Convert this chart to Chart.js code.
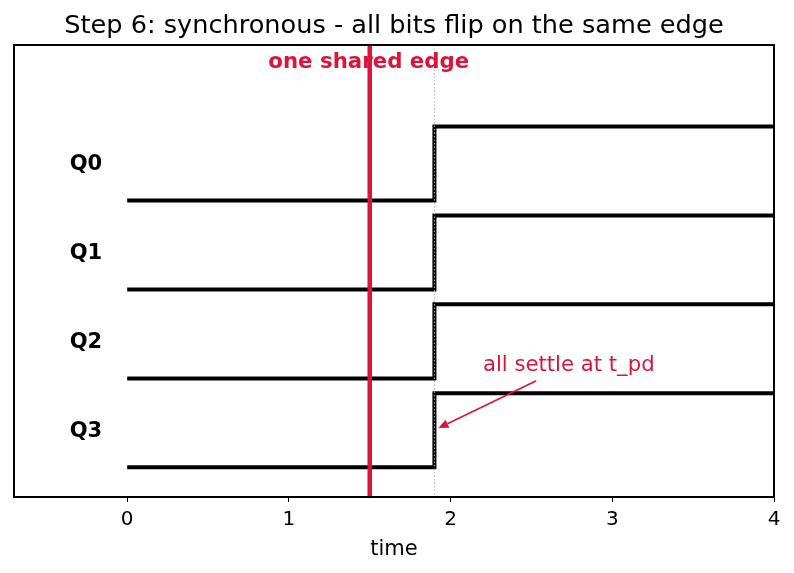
<!DOCTYPE html>
<html>
<head>
<meta charset="utf-8">
<script src="https://cdn.jsdelivr.net/npm/chart.js@4/dist/chart.umd.min.js"></script>
<style>
  html, body { margin: 0; padding: 0; background: #fff; }
  canvas { display: block; }
</style>
</head>
<body>
<canvas id="chart" width="794" height="573"></canvas>
<script>
// Waveform data
const bitNames = ['Q0', 'Q1', 'Q2', 'Q3'];
const bitOffsets = [3.6, 2.4, 1.2, 0];
const sampleTimes = [0, 1.9, 4];
const bitLevels = [0, 1, 1];
const clockEdge = 1.5;
const settleTime = 1.9;
const xTicks = [0, 1, 2, 3, 4];

const CRIMSON = '#DC143C';
const FONT = '"DejaVu Sans", sans-serif';

const datasets = bitNames.map(function(name, i) {
    return {
        label: name,
        data: sampleTimes.map(function(t, k) {
            return { x: t, y: bitOffsets[i] + bitLevels[k] };
        }),
        stepped: true,
        borderColor: '#000',
        borderWidth: 4,
        pointRadius: 0,
        fill: false
    };
});

// Extra drawing: frame, edges, labels, annotation
const overlayPlugin = {
    id: 'overlay',
    afterDatasetsDraw: function(chart) {
        const ctx = chart.ctx;
        const area = chart.chartArea;
        const xs = chart.scales.x;
        const ys = chart.scales.y;
        ctx.save();

        // dotted settle line
        const sx = xs.getPixelForValue(settleTime);
        ctx.strokeStyle = '#b0b0b0';
        ctx.lineWidth = 1;
        ctx.setLineDash([1.5, 2]);
        ctx.beginPath();
        ctx.moveTo(sx, area.top);
        ctx.lineTo(sx, area.bottom);
        ctx.stroke();
        ctx.setLineDash([]);

        // clock edge
        const cx = xs.getPixelForValue(clockEdge);
        ctx.strokeStyle = CRIMSON;
        ctx.lineWidth = 4.5;
        ctx.beginPath();
        ctx.moveTo(cx, area.top);
        ctx.lineTo(cx, area.bottom);
        ctx.stroke();

        // bit labels
        ctx.fillStyle = '#000';
        ctx.font = 'bold 21px ' + FONT;
        ctx.textAlign = 'center';
        ctx.textBaseline = 'middle';
        bitNames.forEach(function(name, i) {
            ctx.fillText(name, xs.getPixelForValue(-0.255), ys.getPixelForValue(bitOffsets[i] + 0.5) + 1);
        });

        // edge label
        ctx.fillStyle = CRIMSON;
        ctx.font = 'bold 21.3px ' + FONT;
        ctx.fillText('one shared edge', cx - 1, ys.getPixelForValue(5.46));

        // annotation
        ctx.font = '21.2px ' + FONT;
        ctx.textAlign = 'left';
        ctx.fillText('all settle at t_pd', xs.getPixelForValue(2.2), ys.getPixelForValue(1.38));
        const x1 = xs.getPixelForValue(2.53), y1 = ys.getPixelForValue(1.17);
        const x2 = xs.getPixelForValue(1.925), y2 = ys.getPixelForValue(0.53);
        const ang = Math.atan2(y2 - y1, x2 - x1);
        const hl = 10, hw = 4.5;
        ctx.strokeStyle = CRIMSON;
        ctx.lineWidth = 1.6;
        ctx.beginPath();
        ctx.moveTo(x1, y1);
        ctx.lineTo(x2 - hl * Math.cos(ang), y2 - hl * Math.sin(ang));
        ctx.stroke();
        ctx.beginPath();
        ctx.moveTo(x2, y2);
        ctx.lineTo(x2 - hl * Math.cos(ang) + hw * Math.sin(ang), y2 - hl * Math.sin(ang) - hw * Math.cos(ang));
        ctx.lineTo(x2 - hl * Math.cos(ang) - hw * Math.sin(ang), y2 - hl * Math.sin(ang) + hw * Math.cos(ang));
        ctx.closePath();
        ctx.fill();

        // frame
        ctx.strokeStyle = '#000';
        ctx.lineWidth = 2;
        ctx.strokeRect(area.left, area.top, area.right - area.left, area.bottom - area.top);

        // title
        ctx.fillStyle = '#000';
        ctx.font = '25.6px ' + FONT;
        ctx.textAlign = 'center';
        ctx.fillText('Step 6: synchronous - all bits flip on the same edge', 394, 26);
        ctx.restore();
    }
};

new Chart(document.getElementById('chart').getContext('2d'), {
    type: 'line',
    data: { datasets: datasets },
    options: {
        responsive: false,
        animation: false,
        layout: { padding: { left: 14, right: 20, top: 45, bottom: 11 } },
        plugins: {
            legend: { display: false },
            tooltip: { enabled: false }
        },
        scales: {
            x: {
                type: 'linear',
                min: -0.7,
                max: 4,
                afterBuildTicks: function(scale) {
                    scale.ticks = xTicks.map(function(v) { return { value: v }; });
                },
                afterFit: function(scale) { scale.height = 65; },
                border: { display: false },
                grid: {
                    drawOnChartArea: false,
                    drawTicks: true,
                    tickLength: 5,
                    tickColor: '#000',
                    tickWidth: 1
                },
                ticks: {
                    color: '#000',
                    font: { family: FONT, size: 20 },
                    padding: 6,
                    maxRotation: 0
                },
                title: {
                    display: true,
                    text: 'time',
                    color: '#000',
                    font: { family: FONT, size: 21 },
                    padding: { top: 0, bottom: 0 }
                }
            },
            y: {
                display: false,
                min: -0.4,
                max: 5.7
            }
        }
    },
    plugins: [overlayPlugin]
});
</script>
</body>
</html>
